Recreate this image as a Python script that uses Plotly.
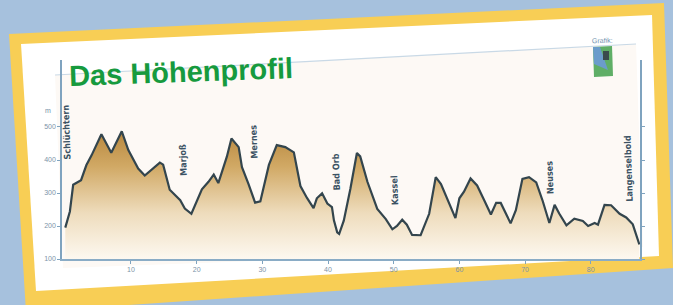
import plotly.graph_objects as go

# --- data ---
km = [0, 0.7, 1.2, 2.4, 3.2, 4.0, 5.5, 7.0, 8.6, 9.6, 11.1, 12.1, 14.4, 14.9, 15.9,
      17.5, 18.2, 19.2, 20.8, 21.8, 22.6, 23.3, 24.6, 25.3, 26.4, 26.9, 27.9, 28.9,
      29.7, 31.0, 32.2, 33.5, 34.8, 35.8, 36.8, 37.8, 38.3, 39.1, 39.9, 40.6, 40.9,
      41.4, 41.7, 42.4, 43.4, 44.4, 44.9, 46.0, 47.5, 48.8, 49.8, 50.5, 51.3, 52.0,
      52.8, 54.1, 55.4, 56.4, 57.2, 58.2, 59.4, 60.0, 60.7, 61.7, 62.7, 63.8, 64.8,
      65.6, 66.3, 67.8, 68.6, 69.6, 70.6, 71.7, 72.7, 73.7, 74.5, 75.2, 76.3, 77.5,
      78.8, 79.6, 80.6, 81.1, 82.1, 83.1, 84.4, 85.4, 86.4, 87.4]
elev = [195, 244, 325, 339, 384, 414, 478, 422, 487, 430, 374, 353, 392, 386, 310,
        278, 253, 237, 311, 334, 356, 330, 410, 465, 439, 378, 327, 271,
        275, 385, 445, 439, 423, 321, 285, 254, 284, 299, 268, 257, 217,
        181, 176, 216, 312, 421, 411, 334, 252, 221, 190, 200, 219, 204,
        173, 172, 237, 348, 327, 281, 224, 284, 304, 344, 323, 277, 235,
        270, 270, 208, 248, 343, 348, 332, 275, 209, 264, 238, 202, 222,
        215, 200, 209, 204, 264, 263, 237, 226, 205, 144]

place_names = ["Schlüchtern", "Marjoß", "Mernes", "Bad Orb", "Kassel", "Neuses", "Langenselbold"]
place_km = [0.2, 18.0, 28.7, 41.2, 50.1, 73.8, 85.7]
place_elev = [485, 399, 455, 365, 310, 345, 374]

y_ticks = [100, 200, 300, 400, 500]
x_ticks = [10, 20, 30, 40, 50, 60, 70, 80]

title_text = "Das Höhenprofil"

# --- layout helpers (pixel -> paper) ---
L, R, T, B = 62, 33, 60, 46
W, H = 673, 305
PW, PH = W - L - R, H - T - B


def P(px, py):
    return f"{(px - L) / PW:.4f},{(H - B - py) / PH:.4f}"


def poly(points, close=True):
    return "M " + " L ".join(P(x, y) for x, y in points) + (" Z" if close else "")


def shp(points, color, layer="below"):
    return dict(type="path", path=poly(points), xref="paper", yref="paper",
                fillcolor=color, line=dict(width=0), layer=layer)


fig = go.Figure()
fig.add_trace(go.Scatter(
    x=km, y=elev, mode="lines",
    line=dict(color="#33454d", width=2.2),
    fill="tozeroy",
    fillgradient=dict(type="vertical", start=100, stop=500,
                      colorscale=[[0, "rgba(253,248,240,1)"], [0.35, "#eedcbc"],
                                  [0.7, "#d1a965"], [1, "#b5843a"]]),
    hoverinfo="skip", showlegend=False,
))

shapes = [
    shp([(9, 34), (664, 3), (673, 268), (26, 312)], "#f8ce55"),
    shp([(21, 44), (652, 15), (659, 256), (36, 291)], "#ffffff"),
    shp([(55, 75), (636, 44), (643, 247), (63, 268)], "#fdf9f5"),
    dict(type="path", path=poly([(55, 75), (636, 44)], close=False),
         xref="paper", yref="paper", line=dict(color="#c9d9e6", width=1.2), layer="below"),
    # logo
    shp([(593, 47), (612, 46), (613, 76), (594, 77)], "#5fae66", "above"),
    shp([(593, 47), (600, 47), (608, 70), (594, 64)], "#6b9ccb", "above"),
    shp([(603, 51), (609, 51), (609, 60), (603, 60)], "#3a4a4c", "above"),
]

annotations = [
    dict(text=f"<b>{title_text}</b>", xref="paper", yref="paper",
         x=(181 - L) / PW, y=(H - B - 72) / PH, xanchor="center", yanchor="middle",
         showarrow=False, textangle=-2,
         font=dict(family="Liberation Sans, Arial, sans-serif", size=29, color="#169a3e")),
    dict(text="Grafik:", xref="paper", yref="paper",
         x=(602 - L) / PW, y=(H - B - 41) / PH, xanchor="center", yanchor="middle",
         showarrow=False, textangle=-2,
         font=dict(family="Liberation Sans, Arial, sans-serif", size=7, color="#6f8fae")),
    dict(text="m", xref="paper", yref="y", x=-0.025, y=550, xanchor="center",
         yanchor="middle", showarrow=False,
         font=dict(family="Liberation Sans, Arial, sans-serif", size=7, color="#7590a8")),
]
for name, xk, ye in zip(place_names, place_km, place_elev):
    annotations.append(dict(
        text=f"<b>{name}</b>", x=xk, y=ye, xref="x", yref="y", showarrow=False,
        textangle=-92, xanchor="center", yanchor="middle",
        font=dict(family="DejaVu Sans Condensed, Liberation Sans, sans-serif",
                  size=9, color="#3b5263")))

fig.update_layout(
    width=W, height=H,
    margin=dict(l=L, r=R, t=T, b=B, pad=0),
    paper_bgcolor="#a6c1dd",
    plot_bgcolor="rgba(0,0,0,0)",
    shapes=shapes, annotations=annotations,
    xaxis=dict(range=[-0.5, 87.5], tickvals=x_ticks, ticks="outside", ticklen=3,
               tickcolor="#7fa3bf", showgrid=False, zeroline=False,
               showline=True, linecolor="#8aacc6", linewidth=1.5, mirror=False,
               tickfont=dict(size=7, color="#7d93a8", family="Liberation Sans, Arial")),
    yaxis=dict(range=[100, 703], tickvals=y_ticks, ticks="outside", ticklen=3,
               tickcolor="#7fa3bf", showgrid=False, zeroline=False,
               showline=True, linecolor="#7fa3bf", linewidth=1.5, mirror="ticks",
               tickfont=dict(size=7, color="#7d93a8", family="Liberation Sans, Arial")),
)

fig.write_html("out.html", config={"displayModeBar": False},
               post_script="document.body.style.margin='0px';")
